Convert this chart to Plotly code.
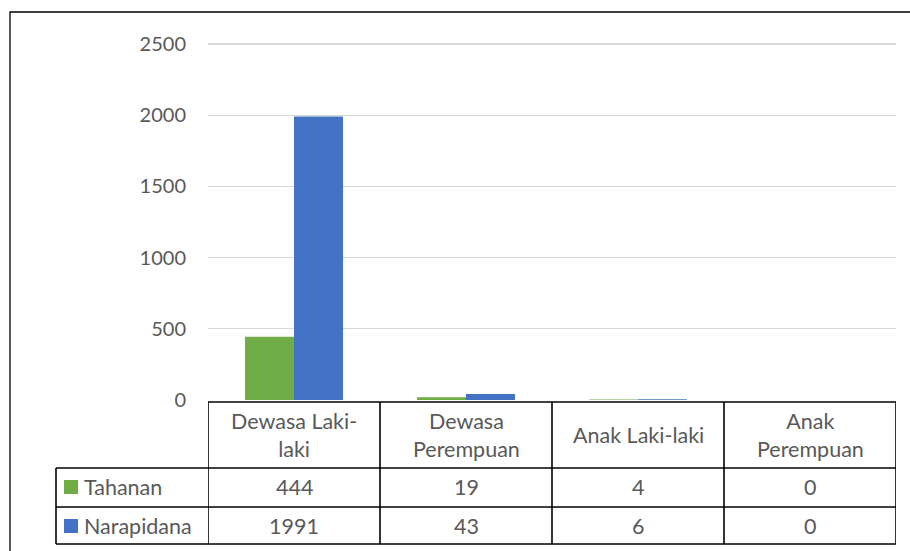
import plotly.graph_objects as go

categories = ["Dewasa Laki-laki", "Dewasa Perempuan", "Anak Laki-laki", "Anak Perempuan"]
header_labels = ["Dewasa Laki-<br>laki", "Dewasa<br>Perempuan", "Anak Laki-laki", "Anak<br>Perempuan"]
tahanan = [444, 19, 4, 0]
narapidana = [1991, 43, 6, 0]
series_names = ["Tahanan", "Narapidana"]
series_colors = ["#70AD47", "#4472C4"]
y_ticks = [0, 500, 1000, 1500, 2000, 2500]
y_max = 2510

W, H = 910, 551
FONT = "Lato"
TXT = "#595959"
FS = 21.5
FS_TICK = 20

def py(pix):
    return 1 - pix / H

def px(pix):
    return pix / W

fig = go.Figure()
xs = list(range(len(categories)))
for name, vals, col in zip(series_names, [tahanan, narapidana], series_colors):
    fig.add_trace(go.Bar(x=xs, y=vals, name=name, marker=dict(color=col, line=dict(width=0)),
                         showlegend=False))

y0_pix, y2500_pix = 400, 44
top_pix = y0_pix - (y0_pix - y2500_pix) * y_max / 2500

fig.update_layout(
    width=W, height=H,
    margin=dict(l=0, r=0, t=0, b=0, pad=0, autoexpand=False),
    paper_bgcolor="white", plot_bgcolor="white",
    barmode="group", bargap=0.43, bargroupgap=0,
    font=dict(family=FONT, color=TXT, size=FS),
    xaxis=dict(domain=[px(208), px(896)], range=[-0.5, 3.5], showticklabels=False,
               showgrid=False, zeroline=False, showline=False, fixedrange=True),
    yaxis=dict(domain=[py(y0_pix), py(top_pix)], range=[0, y_max], tickvals=y_ticks,
               showgrid=True, gridcolor="#D9D9D9", gridwidth=1.3, zeroline=False,
               ticks="outside", ticklen=17, tickcolor="rgba(0,0,0,0)",
               tickfont=dict(family=FONT, size=FS_TICK, color=TXT), showline=False,
               fixedrange=True),
)

shapes = []
LC = "black"
LW = 1.6
# outer chart frame
shapes.append(dict(type="rect", xref="paper", yref="paper", x0=px(10), x1=px(930),
                   y0=py(570), y1=py(12), line=dict(color="black", width=1.3)))
# table horizontal lines
y_head_top, y_r1, y_r2, y_bot = 402, 468, 507, 544
shapes.append(dict(type="line", xref="x", yref="paper", x0=-0.5, x1=3.5,
                   y0=py(y_head_top), y1=py(y_head_top), line=dict(color=LC, width=LW)))
for yy in [y_r1, y_r2, y_bot]:
    shapes.append(dict(type="line", xref="paper", yref="paper", x0=px(56), x1=px(896),
                       y0=py(yy), y1=py(yy), line=dict(color=LC, width=LW)))
# vertical lines
shapes.append(dict(type="line", xref="paper", yref="paper", x0=px(56), x1=px(56),
                   y0=py(y_r1), y1=py(y_bot), line=dict(color=LC, width=LW)))
for i in range(len(categories) + 1):
    shapes.append(dict(type="line", xref="x", yref="paper", x0=i - 0.5, x1=i - 0.5,
                       y0=py(y_head_top), y1=py(y_bot), line=dict(color=LC, width=LW)))
# legend keys
for j, col in enumerate(series_colors):
    cy = [487, 526][j]
    shapes.append(dict(type="rect", xref="paper", yref="paper", x0=px(64), x1=px(78),
                       y0=py(cy + 7), y1=py(cy - 7), fillcolor=col, line=dict(width=0)))
fig.update_layout(shapes=shapes)

ann = []
for i, lab in enumerate(header_labels):
    ann.append(dict(x=i, xref="x", y=py(435), yref="paper", text=lab, showarrow=False,
                    font=dict(family=FONT, size=FS, color=TXT), xanchor="center", yanchor="middle"))
for j, (name, vals) in enumerate(zip(series_names, [tahanan, narapidana])):
    cy = [487, 526][j]
    ann.append(dict(x=px(82), xref="paper", y=py(cy), yref="paper", text=name, showarrow=False,
                    font=dict(family=FONT, size=FS, color=TXT), xanchor="left", yanchor="middle"))
    for i, v in enumerate(vals):
        ann.append(dict(x=i, xref="x", y=py(cy), yref="paper", text=str(v), showarrow=False,
                        font=dict(family=FONT, size=FS, color=TXT), xanchor="center", yanchor="middle"))
fig.update_layout(annotations=ann)

fig.write_html("out.html", config={"displayModeBar": False, "staticPlot": True},
               post_script=("document.body.style.margin='0';document.body.style.padding='0';"
                            "document.documentElement.style.overflow='hidden';"))
